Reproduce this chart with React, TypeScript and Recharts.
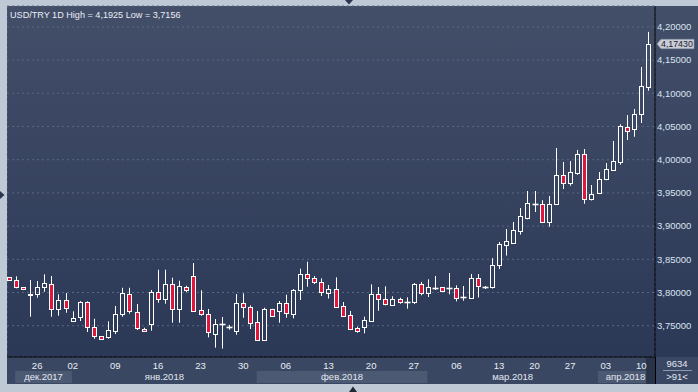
import React from "react";
import { ComposedChart, Bar, Line, XAxis, YAxis, CartesianGrid, ReferenceArea, ReferenceLine } from "recharts";

const FONT = '"Liberation Sans", Arial, sans-serif';
const RED = "#e0163d";

// USD/TRY daily candles, 91 sessions (late Dec 2017 - mid Apr 2018)
const openP = [
  3.8229, 3.8184, 3.8078, 3.7973, 3.7973, 3.8078, 3.8133, 3.7747, 3.7883, 3.7566,
  3.7627, 3.7852, 3.7476, 3.734, 3.7325, 3.7425, 3.7672, 3.7982, 3.7711, 3.7455,
  3.753, 3.8003, 3.7898, 3.8123, 3.7747, 3.8087, 3.8244, 3.7732, 3.7672, 3.738,
  3.7521, 3.7485, 3.7425, 3.7837, 3.7782, 3.7551, 3.7289, 3.7752, 3.7717, 3.7837,
  3.7672, 3.8033, 3.8274, 3.8214, 3.8163, 3.7997, 3.8048, 3.7792, 3.7657, 3.7461,
  3.7476, 3.7575, 3.7973, 3.7907, 3.7816, 3.7907, 3.7857, 3.7852, 3.8123, 3.7997,
  3.8072, 3.8078, 3.8072, 3.8072, 3.7928, 3.7922, 3.8214, 3.8087, 3.8087, 3.8422,
  3.8723, 3.875, 3.8934, 3.9127, 3.9337, 3.933, 3.9066, 3.9328, 3.9765, 3.9642,
  3.9807, 4.0081, 3.9404, 3.9506, 3.9705, 3.9848, 3.9973, 4.0488, 4.0458, 4.0684,
  4.1099,
];
const highP = [
  3.8235, 3.8244, 3.8083, 3.8188, 3.8173, 3.8274, 3.8248, 3.7973, 3.7992, 3.7717,
  3.7872, 3.7867, 3.7605, 3.7345, 3.7566, 3.7797, 3.8072, 3.8072, 3.7827, 3.747,
  3.8038, 3.8343, 3.8343, 3.8223, 3.8178, 3.8102, 3.8444, 3.8033, 3.7752, 3.7601,
  3.7631, 3.7511, 3.7977, 3.7988, 3.7807, 3.7721, 3.7771, 3.7755, 3.7872, 3.7967,
  3.8053, 3.8358, 3.8464, 3.8248, 3.8214, 3.8113, 3.8229, 3.7857, 3.7721, 3.7485,
  3.7636, 3.8123, 3.8083, 3.8093, 3.7943, 3.7922, 3.7928, 3.8143, 3.8158, 3.8199,
  3.8248, 3.808, 3.8294, 3.8108, 3.8098, 3.8279, 3.8279, 3.8098, 3.8517, 3.8761,
  3.8956, 3.9062, 3.9273, 3.9529, 3.9529, 3.939, 3.9453, 4.0176, 3.9965, 3.998,
  4.0146, 4.0161, 3.9619, 3.9815, 3.995, 4.0282, 4.0533, 4.0673, 4.0764, 4.1396,
  4.1925,
];
const lowP = [
  3.8182, 3.8063, 3.8038, 3.7636, 3.7922, 3.8012, 3.7636, 3.7651, 3.7696, 3.7563,
  3.7571, 3.7405, 3.7304, 3.7295, 3.7304, 3.7375, 3.7636, 3.7681, 3.7435, 3.741,
  3.7425, 3.7846, 3.7831, 3.7545, 3.7545, 3.8003, 3.772, 3.7651, 3.7325, 3.717,
  3.7156, 3.744, 3.7364, 3.762, 3.745, 3.727, 3.727, 3.764, 3.7545, 3.762,
  3.7611, 3.7887, 3.8087, 3.8128, 3.7947, 3.791, 3.7771, 3.7631, 3.7435, 3.7395,
  3.7386, 3.7556, 3.7726, 3.7807, 3.7797, 3.7831, 3.7756, 3.7827, 3.7958, 3.7932,
  3.8038, 3.8015, 3.7973, 3.7867, 3.7877, 3.7907, 3.7925, 3.8053, 3.806, 3.8354,
  3.8557, 3.8735, 3.8873, 3.9102, 3.9212, 3.9051, 3.8991, 3.9325, 3.9559, 3.9608,
  3.9773, 3.9337, 3.9386, 3.9494, 3.9691, 3.9833, 3.9925, 4.0297, 4.0346, 4.0553,
  4.1039,
];
const closeP = [
  3.8188, 3.8078, 3.806, 3.797, 3.8078, 3.8139, 3.7747, 3.7883, 3.7762, 3.762,
  3.7857, 3.7476, 3.734, 3.73, 3.7431, 3.7672, 3.7988, 3.7717, 3.7461, 3.7425,
  3.8003, 3.7898, 3.8123, 3.7747, 3.8093, 3.8033, 3.7726, 3.7672, 3.7401, 3.7521,
  3.7524, 3.7488, 3.7837, 3.7777, 3.7545, 3.7289, 3.7752, 3.7642, 3.7837, 3.7687,
  3.8038, 3.8274, 3.8214, 3.8154, 3.8008, 3.8048, 3.7786, 3.7651, 3.7455, 3.7425,
  3.7581, 3.7973, 3.7907, 3.7822, 3.7898, 3.7852, 3.786, 3.8123, 3.7997, 3.8078,
  3.8075, 3.8018, 3.8075, 3.7922, 3.7931, 3.8214, 3.8105, 3.809, 3.8422, 3.8727,
  3.8773, 3.8938, 3.9148, 3.9345, 3.934, 3.9066, 3.933, 3.9765, 3.9645, 3.981,
  4.0081, 3.9404, 3.9479, 3.9705, 3.9855, 3.9976, 4.0503, 4.0428, 4.0684, 4.1105,
  4.1743,
];

// day ticks (session index -> label)
const tickIdx = [4, 9, 15, 21, 27, 33, 39, 45, 51, 57, 63, 69, 74, 79, 84, 89];
const tickLabels = ["26", "02", "09", "16", "23", "30", "06", "13", "20", "27", "06", "13", "20", "27", "03", "10"];
const priceTicks = [3.75, 3.8, 3.85, 3.9, 3.95, 4.0, 4.05, 4.1, 4.15, 4.2];

const months = ["дек.2017", "янв.2018", "фев.2018", "мар.2018", "апр.2018"];
const monthStart = [0.9, 8.9, 34.9, 58.9, 82.9];
const monthEnd = [8.9, 34.9, 58.9, 82.9, 89.7];

const lastPrice = 4.1743;
const X_DOMAIN: [number, number] = [-0.24, 90.94];
const Y_DOMAIN: [number, number] = [3.7029, 4.2315];

const rows = openP.map((o, i) => ({
  i,
  open: o,
  high: highP[i],
  low: lowP[i],
  close: closeP[i],
  range: [lowP[i], highP[i]],
}));

const fmt = (v: number) => v.toFixed(5).replace(".", ",");

function Candle(props: any) {
  const { x, y, width, height, payload } = props;
  if (!payload) return null;
  const { open, close, high, low } = payload;
  let top = y;
  let h = height;
  if (h < 0) {
    top = y + h;
    h = -h;
  }
  const ppu = h / (high - low);
  const py = (v: number) => top + (high - v) * ppu;
  const c = Math.round(x + width / 2);
  const wx = c + 0.5;
  const bTop = Math.round(py(Math.max(open, close))) + 0.5;
  const bBot = Math.round(py(Math.min(open, close))) + 0.5;
  const up = close >= open;
  const yH = py(high);
  const yL = py(low);
  const doji = bBot - bTop < 1;
  return (
    <g>
      {yH < bTop && <line x1={wx} x2={wx} y1={yH} y2={bTop} stroke="#fff" strokeWidth={1} />}
      {yL > bBot && <line x1={wx} x2={wx} y1={bBot} y2={yL} stroke="#fff" strokeWidth={1} />}
      {doji ? (
        <line x1={c - 2.5} x2={c + 3.5} y1={bTop} y2={bTop} stroke="#fff" strokeWidth={1.6} />
      ) : (
        <rect x={c - 1.5} y={bTop} width={4} height={bBot - bTop} fill={up ? "none" : RED} stroke="#fff" strokeWidth={1} />
      )}
    </g>
  );
}

function PriceTag(props: any) {
  const vb = props.viewBox || {};
  const x0 = (vb.x || 0) + (vb.width || 0) + 2;
  const yc = vb.y || 0;
  return (
    <g>
      <path
        d={`M${x0},${yc} L${x0 + 4},${yc - 4.7} H${x0 + 37} V${yc + 4.7} H${x0 + 4} Z`}
        fill="#c8ccd4"
        stroke="#8e97a8"
        strokeWidth={0.6}
      />
      <text x={x0 + 4} y={yc + 3.2} fill="#1b2230" fontSize={8.8} fontFamily={FONT}>
        {fmt(lastPrice)}
      </text>
    </g>
  );
}

function DayTick(props: any) {
  const { x, y, payload } = props;
  const k = tickIdx.indexOf(payload.value);
  return (
    <text x={x} y={y} textAnchor="middle" fill="#e8edf5" fontSize={9.5} fontFamily={FONT}>
      {k >= 0 ? tickLabels[k] : ""}
    </text>
  );
}

export default function App() {
  return (
    <div style={{ position: "absolute", left: 0, top: 0, width: 698, height: 392, overflow: "hidden", background: "#bfc9d6", fontFamily: FONT }}>
      <div style={{ position: "absolute", left: 7, top: 6, width: 648, height: 351, background: "linear-gradient(#434f69, #2b3856)" }} />
      <div style={{ position: "absolute", left: 655, top: 6, width: 43, height: 351, background: "linear-gradient(#434f69, #2b3856)" }} />
      <div style={{ position: "absolute", left: 7, top: 357, width: 691, height: 27, background: "#3a4762" }} />
      <div style={{ position: "absolute", left: 646, top: 357, width: 9, height: 27, background: "#283248" }} />

      <div style={{ position: "absolute", left: 0, top: 0 }}>
        <ComposedChart width={698} height={358} data={rows} margin={{ top: 6, right: 0, bottom: 0, left: 7 }}>
          <CartesianGrid stroke="#5a6883" strokeDasharray="2 3" />
          <XAxis
            dataKey="i"
            type="number"
            domain={X_DOMAIN}
            ticks={tickIdx}
            allowDataOverflow
            height={1}
            tick={false}
            tickLine={false}
            axisLine={{ stroke: "#000" }}
          />
          <YAxis
            orientation="right"
            domain={Y_DOMAIN}
            ticks={priceTicks}
            allowDataOverflow
            interval={0}
            width={43}
            axisLine={{ stroke: "#000" }}
            tickLine={false}
            tickSize={0}
            tickMargin={2}
            tick={{ fill: "#dbe3f0", fontSize: 9.5, fontFamily: FONT }}
            tickFormatter={fmt}
          />
          <Bar dataKey="range" barSize={5} shape={(p: any) => <Candle {...p} />} isAnimationActive={false} />
          <ReferenceLine y={lastPrice} stroke="none" label={(p: any) => <PriceTag {...p} />} />
        </ComposedChart>
      </div>

      <div style={{ position: "absolute", left: 0, top: 357 }}>
        <ComposedChart width={698} height={27} data={rows} margin={{ top: 0, right: 43, bottom: 1, left: 7 }}>
          <XAxis
            dataKey="i"
            type="number"
            domain={X_DOMAIN}
            ticks={tickIdx}
            allowDataOverflow
            orientation="top"
            height={14}
            interval={0}
            axisLine={false}
            tickLine={false}
            tickSize={0}
            tickMargin={2}
            tick={(p: any) => <DayTick {...p} />}
          />
          <YAxis hide domain={[0, 1]} />
          {months.map((m, k) => (
            <ReferenceArea
              key={m}
              x1={monthStart[k]}
              x2={monthEnd[k]}
              y1={0}
              y2={1}
              ifOverflow="visible"
              fill={k % 2 === 0 ? "#4c5973" : "none"}
              fillOpacity={1}
              stroke="none"
              label={{ value: m, position: k === 4 ? "insideRight" : "center", offset: 1, fill: "#e3e8f1", fontSize: 9.5, fontFamily: FONT }}
            />
          ))}
          <Line dataKey={() => 0.5} stroke="none" dot={false} isAnimationActive={false} />
        </ComposedChart>
      </div>

      <svg width={698} height={392} style={{ position: "absolute", left: 0, top: 0, pointerEvents: "none" }}>
        <rect x={0} y={0} width={7} height={392} fill="#bfc9d6" />
        <rect x={655} y={357} width={1} height={27} fill="#000" />
        <text x={10} y={18} fill="#e9edf5" fontSize={9.1} fontFamily={FONT}>
          USD/TRY 1D High = 4,1925 Low = 3,7156
        </text>
        <text x={677} y={367} textAnchor="middle" fill="#e3e8f1" fontSize={9.5} fontFamily={FONT}>9634</text>
        <line x1={663} x2={692} y1={370.5} y2={370.5} stroke="#8d99ad" strokeWidth={1} />
        <text x={677} y={380} textAnchor="middle" fill="#e3e8f1" fontSize={9.5} fontFamily={FONT}>&gt;91&lt;</text>
        <polygon points="345,0 353,0 349,4.5" fill="#2a3550" />
        <polygon points="349,392 357,392 353,386.5" fill="#1f2839" />
        <polygon points="0,191 0,199 4.5,195" fill="#2a3550" />
      </svg>
    </div>
  );
}
